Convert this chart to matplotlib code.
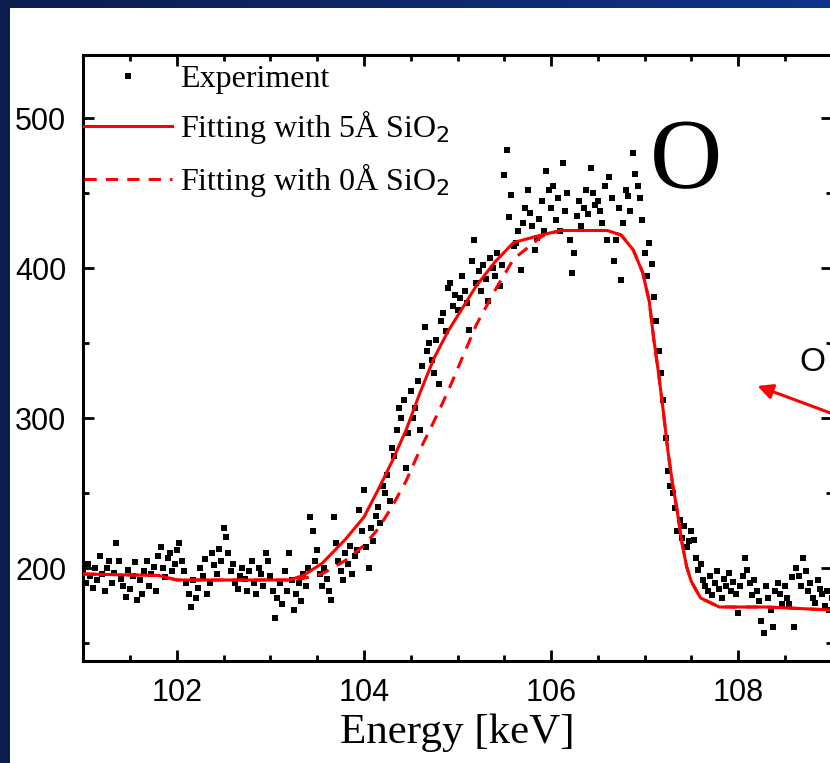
import numpy as np
import matplotlib
matplotlib.use("Agg")
import matplotlib.pyplot as plt
from matplotlib.ticker import MultipleLocator

# experiment: channel calibration and counts
e_start = 101.0
e_step = 0.025
counts = [
    198, 190, 203, 195, 187, 200, 192, 208, 196, 185, 200, 205, 190, 197, 217, 205, 193, 188, 181, 199,
    186, 195, 204, 179, 192, 183, 198, 205, 188, 196, 201, 185, 208, 214, 200, 194, 207, 210, 198, 203,
    212, 217, 205, 198, 190, 183, 174, 192, 180, 187, 200, 195, 206, 183, 190, 210, 202, 196, 213, 205,
    227, 221, 210, 198, 203, 190, 186, 195, 200, 193, 185, 198, 205, 190, 183, 200, 196, 188, 210, 205,
    195, 185, 167, 180, 190, 176, 198, 185, 210, 192, 172, 183, 190, 178, 196, 188, 200, 234, 225, 205,
    212, 196, 188, 200, 193, 185, 179, 234, 217, 205, 198, 192, 210, 203, 215, 196, 208, 212, 239, 225,
    252, 214, 200, 227, 218, 235, 241, 230, 255, 250, 262, 245, 280, 275, 292, 307, 300, 312, 267, 290,
    318, 300, 307, 325, 292, 335, 361, 345, 350, 339, 330, 352, 323, 365, 370, 358, 387, 390, 375, 382,
    372, 380, 395, 385, 377, 359, 405, 419, 390, 398, 385, 402, 393, 378, 407, 400, 395, 410, 388, 402,
    462, 479, 434, 449, 415, 417, 425, 399, 430, 440, 452, 437, 428, 412, 420, 433, 445, 425, 465, 452,
    440, 455, 432, 447, 425, 470, 438, 450, 419, 397, 410, 435, 445, 428, 440, 452, 436, 467, 450, 442,
    445, 438, 430, 455, 419, 461, 447, 405, 419, 440, 392, 430, 452, 448, 438, 477, 463, 455, 447, 432,
    410, 395, 417, 403, 381, 365, 345, 330, 312, 287, 265, 255, 250, 240, 225, 232, 220, 228, 214, 218,
    225, 219, 207, 199, 203, 192, 188, 185, 195, 182, 190, 198, 186, 180, 193, 188, 197, 185, 191, 183,
    170, 188, 195, 207, 199, 190, 182, 192, 185, 178, 165, 157, 188, 180, 172, 161, 185, 190, 183, 176,
    188, 180, 176, 194, 161, 200, 195, 188, 207, 198, 185, 190, 180, 177, 192, 186, 183, 175, 185, 172,
    180,
]
energy = e_start + e_step * np.arange(len(counts))

# fits
fit_e = [101.0, 101.8, 102.0, 103.2, 103.35, 103.55, 103.8, 104.0, 104.15, 104.3, 104.45, 104.6,
         104.75, 104.9, 105.05, 105.2, 105.4, 105.6, 105.9, 106.1, 106.6, 106.75, 106.88, 106.98,
         107.05, 107.1, 107.15, 107.2, 107.25, 107.3, 107.35, 107.4, 107.45, 107.5, 107.6, 107.7,
         107.8, 108.3, 109.0]
fit_5A = [196, 195, 192, 192, 195, 203, 219, 234, 252, 271, 292, 317, 340, 358, 373, 388, 404, 417,
          422, 425, 425, 422, 412, 397, 378, 352, 330, 305, 278, 256, 238, 217, 201, 191, 180, 177,
          174, 174, 172]
fit_0A = [196, 195, 192, 192, 193, 196, 205, 215, 226, 241, 258, 279, 298, 318, 340, 362, 385, 406,
          421, 425, 425, 422, 412, 397, 378, 352, 330, 305, 278, 256, 238, 217, 201, 191, 180, 177,
          174, 174, 172]

W, H = 830, 763
fig = plt.figure(figsize=(W / 100, H / 100), dpi=100)
fig.patch.set_facecolor("white")

# slide background: dark strip on left, gradient band on top
bg = fig.add_axes([0, 0, 1, 1], zorder=-5)
bg.set_xlim(0, W)
bg.set_ylim(H, 0)
bg.axis("off")
grad = np.linspace(0, 1, 256).reshape(1, -1)
cmap = matplotlib.colors.LinearSegmentedColormap.from_list("band", ["#0c1d4e", "#10348a"])
bg.imshow(grad, cmap=cmap, extent=[0, W, 8, 0], aspect="auto")
bg.add_patch(plt.Rectangle((0, 0), 10, H, color="#0c1d4e", lw=0))

ax = fig.add_axes([83 / W, 1 - 661 / H, 749 / W, 606 / H])
ax.plot(energy, counts, ls="none", marker="s", ms=3.7, color="black", mew=0,
        label="Experiment", zorder=3)
ax.plot(fit_e, fit_5A, color="red", lw=2.2, label="Fitting with 5Å SiO$_2$", zorder=4)
ax.plot(fit_e, fit_0A, color="red", lw=2.2, ls=(0, (4, 3)), label="Fitting with 0Å SiO$_2$", zorder=4)

ax.set_xlim(100.995, 109.005)
ax.set_ylim(138, 542)
ax.xaxis.set_major_locator(MultipleLocator(2))
ax.xaxis.set_minor_locator(MultipleLocator(0.5))
ax.yaxis.set_major_locator(MultipleLocator(100))
ax.yaxis.set_minor_locator(MultipleLocator(50))
ax.tick_params(which="both", direction="in", top=True, right=True, width=2, color="black")
ax.tick_params(which="major", length=8, labelsize=22, pad=12)
ax.tick_params(which="minor", length=4)
for lab in ax.get_xticklabels() + ax.get_yticklabels():
    lab.set_family("Liberation Sans")
for sp in ax.spines.values():
    sp.set_linewidth(2.2)

ax.set_xlabel("Energy [keV]", family="Liberation Serif", fontsize=31, labelpad=4)

leg = ax.legend(loc="upper left", frameon=False, borderaxespad=0.0,
                borderpad=0.15, handlelength=2.75, handletextpad=0.25, labelspacing=0.45,
                markerscale=1.2, prop={"family": "Liberation Serif", "size": 23})
# pull the legend flush to the left spine
leg.set_bbox_to_anchor((-0.005, 0.992), transform=ax.transAxes)

ax.text(107.44, 470, "O", family="Liberation Serif", fontsize=72, ha="center", va="center")
ax.text(108.79, 337, "O", family="Liberation Sans", fontsize=24, ha="center", va="center")
ax.annotate("", xy=(108.18, 322), xytext=(109.09, 301), annotation_clip=False,
            arrowprops=dict(arrowstyle="-|>,head_length=0.9,head_width=0.45", color="red", lw=2.2))

fig.savefig("out.png", dpi=100, facecolor=fig.get_facecolor())
